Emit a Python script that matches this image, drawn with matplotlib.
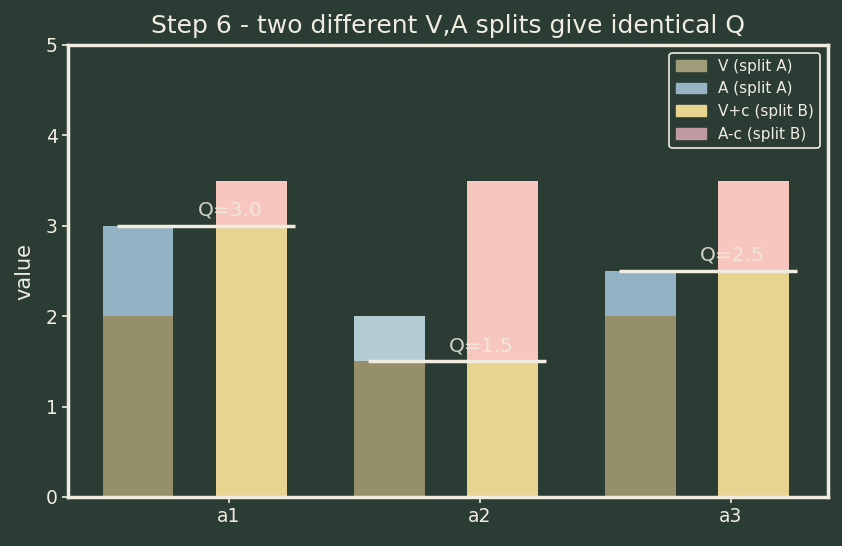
import matplotlib
matplotlib.use("Agg")
import matplotlib.pyplot as plt
import matplotlib.patches as mpatches
import numpy as np

actions = ["a1", "a2", "a3"]
V_A = [2.0, 1.5, 2.0]
A_A = [1.0, 0.5, 0.5]
Vc_B = [3.0, 1.5, 2.5]
Ac_B = [0.5, 2.0, 1.0]
Q = [3.0, 1.5, 2.5]

BG = "#2a3c33"
FG = "#f0ece0"
c_V = "#958f6a"
c_A = ["#93b2c3", "#b3cbd3", "#93b2c3"]
c_Vc = "#e8d491"
c_Ac = "#f6c6bf"

fig = plt.figure(figsize=(8.42, 5.46), dpi=100, facecolor=BG)
ax = fig.add_axes([68/842, 1-497/546, (828-68)/842, (497-45)/546])
ax.set_facecolor(BG)

x = np.arange(len(actions))
w = 0.28
xa = x - 0.36
xb = x + 0.09
ax.bar(xa, V_A, width=w, color=c_V)
ax.bar(xa, A_A, width=w, bottom=V_A, color=c_A)
ax.bar(xb, Vc_B, width=w, color=c_Vc)
ax.bar(xb, Ac_B, width=w, bottom=Vc_B, color=c_Ac)

for xi, q in zip(x, Q):
    ax.plot([xi - 0.446, xi + 0.263], [q, q], color=FG, lw=2.5, solid_capstyle="butt")
    ax.text(xi + 0.005, q + 0.07, f"Q={q}", color=FG, alpha=0.85, fontsize=14.5,
            ha="center", va="bottom")

ax.set_xlim(-0.64, 2.386)
ax.set_ylim(0, 5)
ax.set_xticks(x)
ax.set_xticklabels(actions)
ax.set_ylabel("value", color=FG, fontsize=15, labelpad=8)
ax.set_title("Step 6 - two different V,A splits give identical Q", color=FG, fontsize=18, pad=9)
ax.tick_params(colors=FG, labelsize=13.5, width=1.2, length=4)
for s in ax.spines.values():
    s.set_color(FG)
    s.set_linewidth(2.5)

handles = [
    mpatches.Patch(color="#a09c78", label="V (split A)"),
    mpatches.Patch(color="#98b4c4", label="A (split A)"),
    mpatches.Patch(color="#e8d490", label="V+c (split B)"),
    mpatches.Patch(color="#c09aa0", label="A-c (split B)"),
]
leg = ax.legend(handles=handles, loc="upper right", fontsize=11, facecolor=BG,
                edgecolor=FG, labelcolor=FG, framealpha=1)
leg.get_frame().set_linewidth(1.2)

fig.savefig("out.png", dpi=100, facecolor=BG)
